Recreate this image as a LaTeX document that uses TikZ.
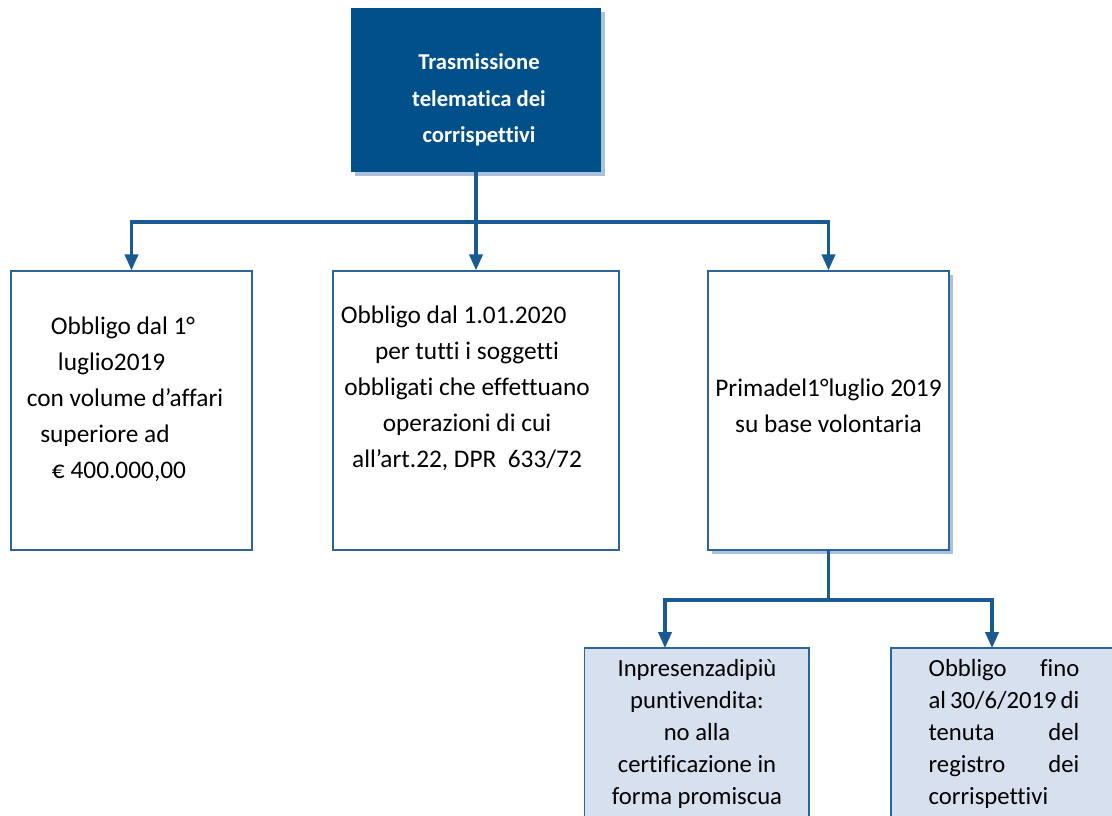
\documentclass[tikz,border=0pt]{standalone}
\usepackage{fontspec}
\setmainfont{Carlito}[Ligatures={NoCommon}]
\usepackage{xcolor}
\usepackage{tikz}
\usetikzlibrary{arrows.meta,positioning,calc}
\definecolor{headblue}{HTML}{02508A}
\definecolor{edgeblue}{HTML}{2C659B}
\definecolor{linkblue}{HTML}{1A5A92}
\definecolor{shadeblue}{HTML}{A9C1DA}
\definecolor{paleblue}{HTML}{D7E0EE}
\newcommand{\padr}[1]{\kern#1\null}
\newcommand{\fullline}[1]{\makebox[113pt][s]{#1}}
\tikzset{
  headbox/.style={fill=headblue,draw=none,minimum width=187.5pt,minimum height=123pt},
  headtext/.style={text=white,align=center,inner sep=0pt,
    font=\fontsize{17}{27.5}\selectfont\bfseries},
  rulebox/.style={draw=edgeblue,line width=1pt,fill=white,inner sep=0pt,minimum height=209.25pt},
  ruletext/.style={align=center,inner sep=0pt,font=\fontsize{19}{27}\selectfont},
  notebox/.style={draw=edgeblue,line width=1pt,fill=paleblue,inner sep=0pt,
    minimum width=168.5pt,minimum height=127.5pt},
  notetext/.style={inner sep=0pt,font=\fontsize{18.5}{24}\selectfont},
  shadowed/.style={preaction={fill=shadeblue,transform canvas={xshift=3pt,yshift=-3pt}}},
  linkline/.style={draw=linkblue,line width=2.3pt},
  linkarrow/.style={linkline,-{Triangle[length=12pt,width=10pt]}}
}
\begin{document}
\begin{tikzpicture}[x=0.75pt,y=-0.75pt]
  \useasboundingbox (0,0) rectangle (1112,816);
  \clip (0,0) rectangle (1112,816);
  % top
  \node[headbox,shadowed] (title) at (476,90) {};
  \node[headtext] (title-txt) at (479,100)
    {Trasmissione\\telematica dei\\corrispettivi};
  % second row
  \node[rulebox,minimum width=180.75pt] (luglio) at (131.5,410.5) {};
  \node[ruletext] (luglio-txt) at (125,399)
    {Obbligo dal 1°\padr{3pt}\\luglio2019\padr{20pt}\\con volume d’affari\\
     superiore ad\padr{30pt}\\€ 400.000,00\padr{9pt}};
  \node[rulebox,minimum width=214.5pt] (gennaio) at (476,410.5) {};
  \node[ruletext] (gennaio-txt) at (467,388)
    {Obbligo dal 1.01.2020\padr{20pt}\\per tutti i soggetti\\obbligati che effettuano\\
     operazioni di cui\\all’art.22, DPR\ \ 633/72};
  \node[rulebox,shadowed,minimum width=180.75pt] (volont) at (828.5,410.5) {};
  \node[ruletext] (volont-txt) at (828.5,406)
    {Primadel1°luglio 2019\\su base volontaria};
  % third row
  \node[notebox] (promisc) at (696.5,733) {};
  \node[notetext,align=center] (promisc-txt) at (697,734)
    {Inpresenzadipiù\\puntivendita:\\no alla\\certificazione in\\forma promiscua};
  \node[notebox,minimum width=168pt] (registro) at (1003,733) {};
  \node[notetext,align=left] (registro-txt) at (1004,734)
    {\fullline{Obbligo fino}\\\fullline{al 30/6/2019 di}\\\fullline{tenuta del}\\
     \fullline{registro dei}\\corrispettivi};
  % connectors
  \coordinate (fork1) at (476,222);
  \coordinate (fork2) at (828.5,600);
  \coordinate (tipA) at (665,648);
  \coordinate (tipB) at (992,648);
  \draw[linkarrow] (title.south) -- (gennaio.north);
  \draw[linkarrow] (fork1) -| (luglio.north);
  \draw[linkarrow] (fork1) -| (volont.north);
  \draw[linkline] (volont.south) -- (fork2);
  \draw[linkarrow] (fork2) -| (tipA);
  \draw[linkarrow] (fork2) -| (tipB);
\end{tikzpicture}
\end{document}
